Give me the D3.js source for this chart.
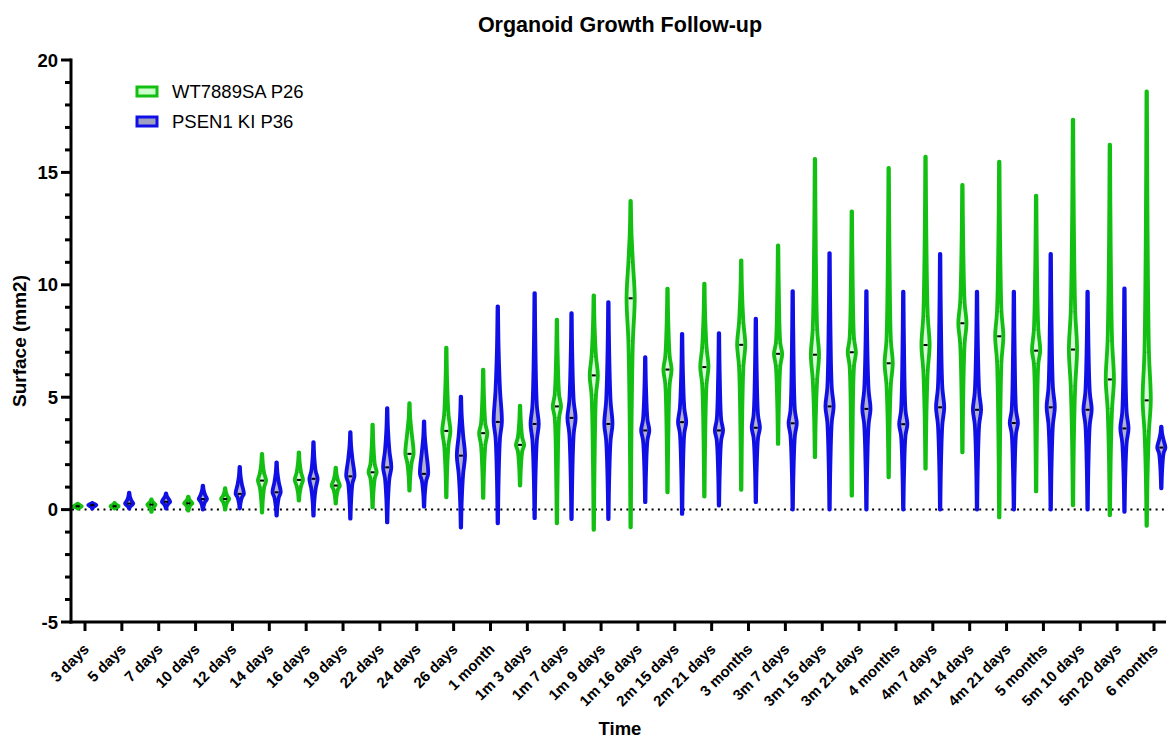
<!DOCTYPE html>
<html>
<head>
<meta charset="utf-8">
<script src="https://cdn.jsdelivr.net/npm/d3@7"></script>
<style>
  body { margin: 0; background: #fff; }
  svg { font-family: "Liberation Sans", Arial, sans-serif; }
</style>
</head>
<body>
<svg id="chart" width="1168" height="738"></svg>
<script>
const categories = ["3 days","5 days","7 days","10 days","12 days","14 days","16 days","19 days","22 days","24 days","26 days","1 month","1m 3 days","1m 7 days","1m 9 days","1m 16 days","2m 15 days","2m 21 days","3 months","3m 7 days","3m 15 days","3m 21 days","4 months","4m 7 days","4m 14 days","4m 21 days","5 months","5m 10 days","5m 20 days","6 months"];

const seriesNames = ["WT7889SA P26", "PSEN1 KI P36"];

// WT7889SA P26 (green)
const wtMin    = [0.05,0.05,-0.1,-0.05,0.0,-0.13,0.4,0.27,0.1,0.85,0.55,0.52,1.07,-0.61,-0.9,-0.79,0.77,0.58,0.88,2.92,2.33,0.62,1.44,1.82,2.55,-0.35,0.81,0.19,-0.25,-0.72];
const wtQ1     = [0.1,0.1,0.12,0.2,0.35,1.0,1.05,0.9,1.4,2.1,2.9,2.9,2.6,4.1,5.1,7.5,5.6,5.6,6.4,6.4,5.8,6.4,5.6,6.2,7.4,6.6,6.5,5.5,4.5,3.5];
const wtMedian = [0.15,0.15,0.22,0.28,0.47,1.29,1.32,1.07,1.66,2.48,3.5,3.4,2.88,4.59,5.97,9.4,6.23,6.34,7.33,6.93,6.89,7.0,6.51,7.32,8.29,7.71,7.07,7.12,5.79,4.86];
const wtQ3     = [0.2,0.2,0.3,0.38,0.6,1.6,1.65,1.3,2.0,3.4,4.2,3.8,3.2,5.1,6.8,11.0,6.8,7.2,8.3,7.4,8.0,7.6,7.5,8.6,9.2,8.8,8.0,8.8,7.5,7.0];
const wtMax    = [0.27,0.3,0.45,0.58,0.95,2.48,2.55,1.87,3.78,4.73,7.2,6.22,4.62,8.45,9.53,13.73,9.83,10.05,11.09,11.75,15.6,13.27,15.2,15.7,14.44,15.48,13.97,17.35,16.23,18.6];

// PSEN1 KI P36 (blue)
const psMin    = [0.05,0.05,0.05,0.0,0.05,-0.27,-0.27,-0.4,-0.57,0.13,-0.8,-0.61,-0.38,-0.42,-0.42,0.33,-0.19,0.18,0.33,0.0,0.0,0.0,0.0,0.0,0.0,0.0,0.0,0.0,-0.1,0.95];
const psQ1     = [0.15,0.18,0.25,0.35,0.55,0.55,0.95,1.2,1.4,1.3,1.6,3.2,3.1,3.4,3.1,3.1,3.4,3.1,3.2,3.3,3.9,3.8,3.3,3.8,3.8,3.4,3.8,3.8,3.0,2.5];
const psMedian = [0.2,0.27,0.35,0.47,0.7,0.77,1.37,1.48,1.88,1.59,2.4,3.9,3.81,4.08,3.81,3.52,3.89,3.52,3.64,3.84,4.59,4.48,3.8,4.55,4.44,3.85,4.55,4.44,3.61,2.76];
const psQ3     = [0.25,0.4,0.5,0.65,1.1,1.2,1.7,2.2,2.6,2.55,3.3,5.3,4.6,4.8,4.8,4.0,4.5,4.0,4.2,4.4,5.4,5.3,4.4,5.4,5.2,4.4,5.4,5.2,4.3,3.1];
const psMax    = [0.3,0.75,0.72,1.07,1.9,2.1,3.0,3.44,4.51,3.92,5.03,9.04,9.63,8.74,9.23,6.78,7.82,7.85,8.49,9.72,11.41,9.72,9.69,11.37,9.69,9.69,11.37,9.69,9.84,3.69];

const yTicks = [-5, 0, 5, 10, 15, 20];
const yMinorTicks = d3.range(-5, 21, 1);

const strokeColors = ["#12bf12", "#1010e6"];
const fillColors = ["#dcf8dc", "#b2b2cc"];
const legendFills = ["#ccffcc", "#a0a0c0"];

const svg = d3.select("#chart");

const x = d3.scalePoint().domain(categories).range([85, 1154]);
const y = d3.scaleLinear().domain([-5, 20]).range([622, 60]);
const offset = 7.3;
const halfW = 4.1;

// Title
svg.append("text").attr("x", 620).attr("y", 32).attr("text-anchor", "middle")
  .attr("font-weight", "bold").attr("font-size", 21.5).text("Organoid Growth Follow-up");

// Zero dotted line
svg.append("line").attr("x1", 72).attr("x2", 1166).attr("y1", y(0)).attr("y2", y(0))
  .attr("stroke", "#000").attr("stroke-width", 2).attr("stroke-dasharray", "2,4.3");

function makeViolins(mins, q1s, meds, q3s, maxs, si) {
  return categories.map((c, i) => ({
    cat: c, si: si,
    min: mins[i], q1: q1s[i], med: meds[i], q3: q3s[i], max: maxs[i]
  }));
}
const groups = [
  makeViolins(wtMin, wtQ1, wtMedian, wtQ3, wtMax, 0),
  makeViolins(psMin, psQ1, psMedian, psQ3, psMax, 1)
];

function profile(d) {
  const pts = [
    [d.min, 0.06],
    [d.min + (d.q1 - d.min) * 0.5, 0.2],
    [d.q1, 0.55],
    [d.med, 1.0],
    [d.q3, 0.55],
    [d.q3 + (d.max - d.q3) * 0.5, 0.2],
    [d.max, 0.06]
  ];
  return pts.map(p => ({ v: p[0], w: p[1] }));
}

groups.forEach((grp, si) => {
  const g = svg.append("g");
  grp.forEach(d => {
    const cx = x(d.cat) + (si === 0 ? -offset : offset);
    const area = d3.area()
      .curve(d3.curveCatmullRom.alpha(0.5))
      .y(p => y(p.v))
      .x0(p => cx - p.w * halfW)
      .x1(p => cx + p.w * halfW);
    g.append("path").attr("d", area(profile(d)))
      .attr("fill", fillColors[si]).attr("stroke", strokeColors[si])
      .attr("stroke-width", 3.8).attr("stroke-linejoin", "round");
    [d.q1, d.q3].forEach(q => {
      g.append("line").attr("x1", cx - 1.5).attr("x2", cx + 1.5)
        .attr("y1", y(q)).attr("y2", y(q))
        .attr("stroke", "#333").attr("stroke-width", 0.8).attr("stroke-dasharray", "1,1").attr("opacity", 0.5);
    });
    g.append("line").attr("x1", cx - 2).attr("x2", cx + 2)
      .attr("y1", y(d.med)).attr("y2", y(d.med))
      .attr("stroke", "#000").attr("stroke-width", 2);
  });
});

// Y axis
const yAxisX = 71;
const gy = svg.append("g");
gy.append("line").attr("x1", yAxisX).attr("x2", yAxisX).attr("y1", y(20) - 1.5).attr("y2", y(-5) + 1.5)
  .attr("stroke", "#000").attr("stroke-width", 3);
yMinorTicks.forEach(t => {
  const major = yTicks.includes(t);
  gy.append("line").attr("x1", yAxisX - (major ? 10 : 6)).attr("x2", yAxisX)
    .attr("y1", y(t)).attr("y2", y(t)).attr("stroke", "#000").attr("stroke-width", 3);
});
yTicks.forEach(t => {
  gy.append("text").attr("x", 58).attr("y", y(t)).attr("dy", "0.36em")
    .attr("text-anchor", "end").attr("font-weight", "bold").attr("font-size", 18.5).text(t);
});
svg.append("text").attr("transform", `translate(26,${y(7.5)}) rotate(-90)`)
  .attr("text-anchor", "middle").attr("font-weight", "bold").attr("font-size", 19).text("Surface (mm2)");

// X axis
const gx = svg.append("g");
gx.append("line").attr("x1", yAxisX - 1.5).attr("x2", 1166).attr("y1", 622).attr("y2", 622)
  .attr("stroke", "#000").attr("stroke-width", 3);
categories.forEach(c => {
  gx.append("line").attr("x1", x(c)).attr("x2", x(c)).attr("y1", 622).attr("y2", 631)
    .attr("stroke", "#000").attr("stroke-width", 3);
  gx.append("text")
    .attr("transform", `translate(${x(c) + 5},${650}) rotate(-45)`)
    .attr("text-anchor", "end").attr("font-weight", "bold").attr("font-size", 15).text(c);
});
svg.append("text").attr("x", 620).attr("y", 735).attr("text-anchor", "middle")
  .attr("font-weight", "bold").attr("font-size", 18.5).text("Time");

// Legend
const legend = svg.append("g");
seriesNames.forEach((name, i) => {
  const ly = 91.5 + i * 30;
  legend.append("rect").attr("x", 137).attr("y", ly - 4.5).attr("width", 20).attr("height", 9)
    .attr("fill", legendFills[i])
    .attr("stroke", strokeColors[i]).attr("stroke-width", 3);
  legend.append("text").attr("x", 172).attr("y", ly).attr("dy", "0.36em")
    .attr("font-size", 18.5).text(name);
});
</script>
</body>
</html>
